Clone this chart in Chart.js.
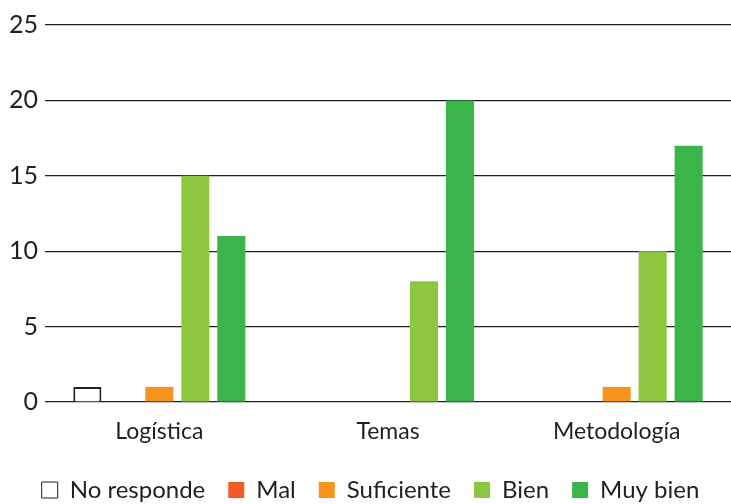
<!DOCTYPE html>
<html><head><meta charset="utf-8">
<style>html,body{margin:0;padding:0;background:#fff}#wrap{width:731px;height:504px}</style>
<script src="https://cdn.jsdelivr.net/npm/chart.js@4/dist/chart.umd.min.js"></script>
</head><body><div id="wrap"><canvas id="c" width="731" height="504"></canvas></div>
<script>
const categories = ["Logística", "Temas", "Metodología"];
const seriesNames = ["No responde", "Mal", "Suficiente", "Bien", "Muy bien"];
const noResponde = [1, 0, 0];
const mal = [0, 0, 0];
const suficiente = [1, 0, 1];
const bien = [15, 8, 10];
const muyBien = [11, 20, 17];
const yTicks = [0, 5, 10, 15, 20, 25];

const fills = ["#ffffff", "#f15a29", "#f7941d", "#8dc63f", "#39b54a"];
const borders = ["#231f20", "#f15a29", "#f7941d", "#8dc63f", "#39b54a"];
const values = [noResponde, mal, suficiente, bien, muyBien];
const txt = "#231f20";
const font = "Lato, 'DejaVu Sans', sans-serif";

new Chart(document.getElementById('c'), {
  type: 'bar',
  data: {
    labels: categories,
    datasets: values.map((v, i) => ({
      label: seriesNames[i],
      data: v,
      backgroundColor: fills[i],
      borderColor: borders[i],
      borderWidth: i === 0 ? {top: 2, left: 2, right: 2, bottom: 0} : 0,
      borderSkipped: false,
      barPercentage: 0.78,
      categoryPercentage: 0.787
    }))
  },
  options: {
    responsive: false,
    animation: false,
    layout: {padding: {left: 10, right: 0, top: 25, bottom: 0}},
    plugins: {
      tooltip: {enabled: false},
      legend: {
        position: 'bottom',
        align: 'center',
        maxHeight: 49,
        labels: {
          color: txt,
          font: {family: font, size: 24},
          boxWidth: 16, boxHeight: 16, padding: 23,
          generateLabels: (chart) => seriesNames.map((n, i) => ({
            text: n, fillStyle: fills[i], strokeStyle: i === 0 ? txt : fills[i],
            lineWidth: i === 0 ? 1 : 0, datasetIndex: i, fontColor: txt
          }))
        }
      }
    },
    scales: {
      x: {
        afterFit: (ax) => { ax.height = 53; },
        grid: {display: false, drawTicks: false},
        border: {display: false},
        ticks: {color: txt, font: {family: font, size: 23}, padding: 16}
      },
      y: {
        min: 0, max: 25,
        afterFit: (ax) => { ax.width = 35; },
        afterBuildTicks: (ax) => { ax.ticks = yTicks.map(v => ({value: v})); },
        grid: {color: "#231f20", lineWidth: 1.2, drawTicks: false},
        border: {display: false},
        ticks: {color: txt, font: {family: font, size: 25}, padding: 7}
      }
    }
  }
});
</script></body></html>
